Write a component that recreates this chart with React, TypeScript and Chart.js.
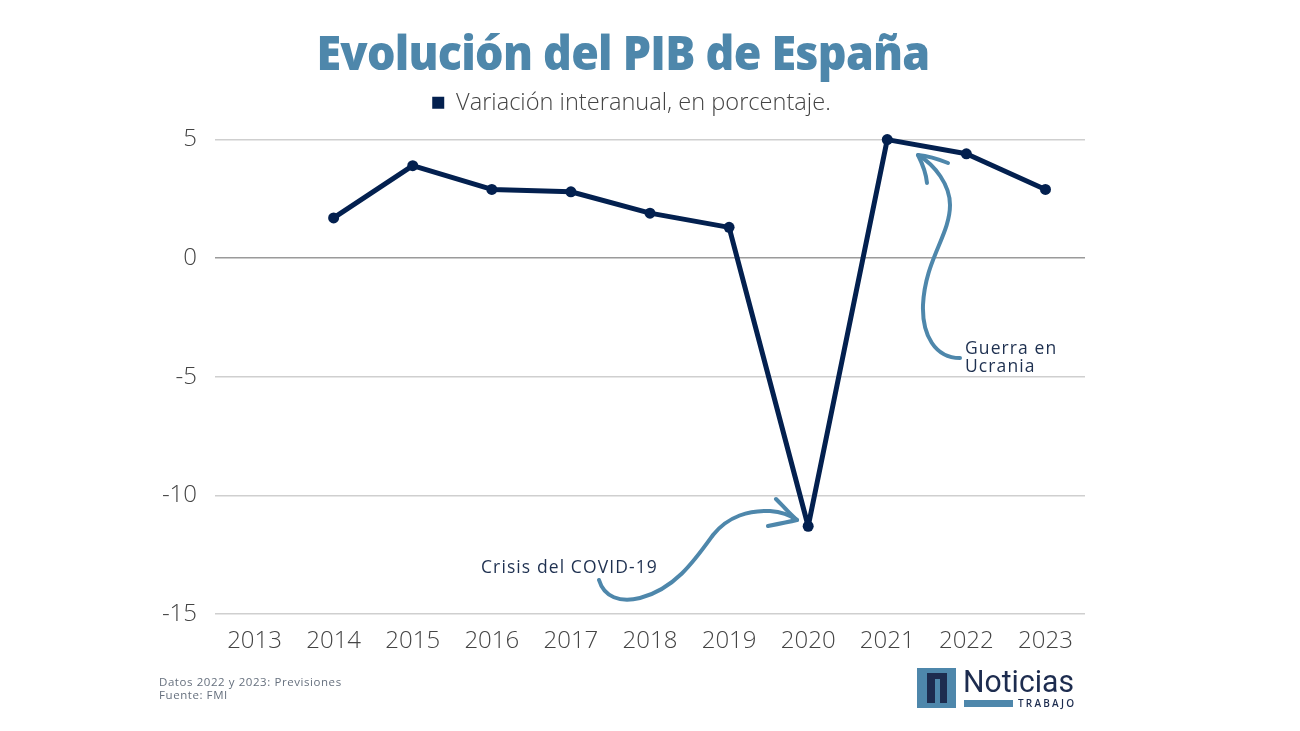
import React, { useEffect, useRef } from 'react';
import { Chart, registerables } from 'chart.js';

Chart.register(...registerables);

const years = ['2013', '2014', '2015', '2016', '2017', '2018', '2019', '2020', '2021', '2022', '2023'];
const gdpGrowth = [null, 1.7, 3.9, 2.9, 2.8, 1.9, 1.3, -11.3, 5, 4.4, 2.9];
const seriesLabel = 'Variación interanual, en porcentaje.';

const NAVY = '#03204f';
const BLUE = '#4e87ab';
const FONT = '"Open Sans", sans-serif';

// legend sits a bit right of and above where the layout would put it
const nudgeLegend = {
  id: 'nudgeLegend',
  afterLayout(chart) {
    const legend = chart.legend;
    legend.left += 11.5;
    legend.right += 11.5;
    legend.top -= 15;
    legend.bottom -= 15;
  },
};

function App() {
  const canvasRef = useRef<HTMLCanvasElement>(null);

  useEffect(() => {
    if (!canvasRef.current) return;
    const chart = new Chart(canvasRef.current, {
      type: 'line',
      data: {
        labels: years,
        datasets: [
          {
            label: seriesLabel,
            data: gdpGrowth,
            borderColor: NAVY,
            backgroundColor: NAVY,
            borderWidth: 5,
            borderJoinStyle: 'round',
            pointRadius: 5.5,
            pointBackgroundColor: NAVY,
            pointBorderWidth: 0,
            tension: 0,
            clip: false,
          },
        ],
      },
      options: {
        responsive: false,
        animation: false,
        layout: { padding: { left: 155, right: 215, top: 96, bottom: 67 } },
        plugins: {
          title: { display: false },
          tooltip: { enabled: false },
          legend: {
            position: 'top',
            labels: {
              boxWidth: 12,
              boxHeight: 12,
              padding: 10,
              color: '#444444',
              font: { family: FONT, size: 23.6, weight: '300' },
              generateLabels: (c) =>
                Chart.defaults.plugins.legend.labels.generateLabels(c).map((item) => ({ ...item, lineWidth: 0 })),
            },
          },
        },
        scales: {
          x: {
            offset: true,
            afterFit: (scale) => {
              scale.height = 50;
            },
            grid: { display: false },
            border: { display: false },
            ticks: {
              padding: 5,
              autoSkip: false,
              maxRotation: 0,
              color: '#444444',
              font: { family: FONT, size: 24, weight: '300' },
            },
          },
          y: {
            min: -15,
            max: 5,
            afterFit: (scale) => {
              scale.width = 60;
            },
            grid: {
              drawTicks: false,
              lineWidth: 1.5,
              color: (ctx) => (ctx.tick && ctx.tick.value === 0 ? '#9a9a9a' : '#cfcfcf'),
            },
            border: { display: false },
            ticks: {
              stepSize: 5,
              padding: 18,
              color: '#444444',
              font: { family: FONT, size: 24, weight: '300' },
            },
          },
        },
      },
      plugins: [nudgeLegend],
    });

    return () => {
      chart.destroy();
    };
  }, []);

  return (
    <div style={{ position: 'absolute', left: 0, top: 0, width: 1300, height: 731, background: '#fff', overflow: 'hidden' }}>
      <canvas ref={canvasRef} width={1300} height={731} style={{ position: 'absolute', left: 0, top: 0 }} />

      {/* Title */}
      <div
        style={{
          position: 'absolute',
          left: 0,
          width: 1246,
          top: 19,
          textAlign: 'center',
          fontFamily: FONT,
          fontWeight: 800,
          fontSize: 48,
          lineHeight: '66px',
          letterSpacing: -0.8,
          transform: 'scaleX(0.934)',
          transformOrigin: 'center',
          color: BLUE,
        }}
      >
        Evolución del PIB de España
      </div>

      {/* Arrows, notes and logo */}
      <svg width={1300} height={731} style={{ position: 'absolute', left: 0, top: 0 }}>
        <g fill="none" stroke={BLUE} strokeWidth={4} strokeLinecap="round" strokeLinejoin="round">
          <path d="M918 155 C935 165 950 185 950 205 C950 235 925 260 923 305 C922 335 935 358 960 358" />
          <path d="M927 183 C926 172 922 163 918 155 C928 156 938 159 948 163" />
          <path d="M599 580 C604 597 620 603 640 598 C675 589 695 560 713 535 C728 516 750 510 770 511 C782 512 790 515 797 520" />
          <path d="M776 499 C783 506 790 514 797 520 C788 522 778 524 768 526" />
        </g>

        <g fontFamily={FONT} fill="#1e3050" fontSize={17.5} letterSpacing={1.1}>
          <text x={481} y={573}>Crisis del COVID-19</text>
          <text x={965} y={354}>Guerra en</text>
          <text x={965} y={372}>Ucrania</text>
        </g>

        <g fontFamily={FONT} fill="#66707e" fontSize={11.5} letterSpacing={0.57}>
          <text x={159} y={686}>Datos 2022 y 2023: Previsiones</text>
          <text x={159} y={699}>Fuente: FMI</text>
        </g>

        <rect x={917} y={668} width={39} height={40} fill={BLUE} />
        <path d="M927 703 V673 H947 V703 H940 V679 H935 V703 Z" fill="#1d2c4f" />
        <text x={963} y={692} fontFamily="Roboto, sans-serif" fontSize={31} fill="#1d2c4f" textLength={111} lengthAdjust="spacingAndGlyphs">
          Noticias
        </text>
        <rect x={964} y={700} width={49} height={7} fill={BLUE} />
        <text x={1018} y={707} fontFamily={FONT} fontSize={10} fontWeight={600} fill="#1d2c4f" textLength={56}>
          TRABAJO
        </text>
      </svg>
    </div>
  );
}

export default App;
